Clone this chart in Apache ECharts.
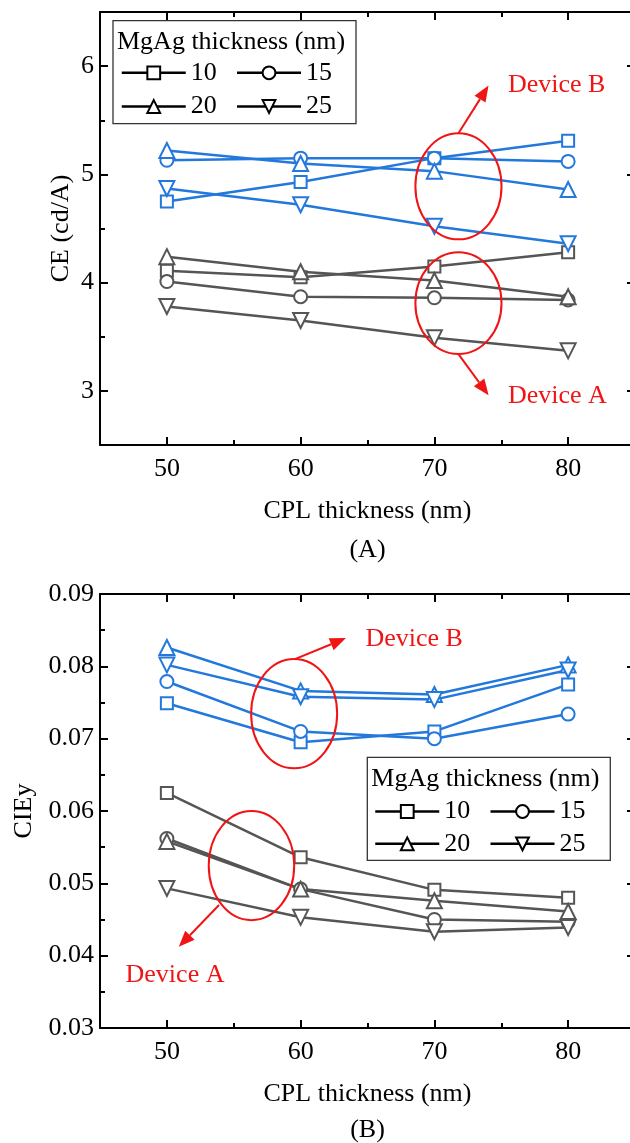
<!DOCTYPE html>
<html>
<head>
<meta charset="utf-8">
<script src="https://cdn.jsdelivr.net/npm/echarts@6/dist/echarts.min.js"></script>
<style>
  html, body { margin: 0; padding: 0; background: #fff; }
  #chart { width: 630px; height: 1143px; }
</style>
</head>
<body>
<div id="chart"></div>
<script>
const cplThickness = [50, 60, 70, 80];
const mgagThickness = ["10", "15", "20", "25"];

// one row per MgAg thickness (10, 15, 20, 25 nm)
const ceDeviceA = [
	[4.11, 4.05, 4.15, 4.28],
	[4.01, 3.87, 3.86, 3.84],
	[4.24, 4.1, 4.02, 3.87],
	[3.78, 3.65, 3.49, 3.37],
];
const ceDeviceB = [
	[4.75, 4.93, 5.15, 5.31],
	[5.13, 5.15, 5.15, 5.12],
	[5.22, 5.1, 5.03, 4.86],
	[4.87, 4.72, 4.52, 4.36],
];
const cieyDeviceA = [
	[0.0625, 0.0536, 0.0491, 0.048],
	[0.0562, 0.0492, 0.045, 0.0447],
	[0.0558, 0.0492, 0.0476, 0.0461],
	[0.0493, 0.0453, 0.0433, 0.0439],
];
const cieyDeviceB = [
	[0.0749, 0.0695, 0.071, 0.0775],
	[0.0779, 0.071, 0.07, 0.0734],
	[0.0826, 0.0766, 0.0761, 0.0802],
	[0.0802, 0.0758, 0.0754, 0.0795],
];

const xTicks = [50, 60, 70, 80];
const xMinorTicks = [55, 65, 75];
const ceTicks = [3, 4, 5, 6];
const ceMinorTicks = [3.5, 4.5, 5.5];
const cieyTicks = [0.03, 0.04, 0.05, 0.06, 0.07, 0.08, 0.09];
const cieyMinorTicks = [0.035, 0.045, 0.055, 0.065, 0.075, 0.085];

// annotation anchors in data units: ellipse [x0, x1, y0, y1], arrow [x0, y0, x1, y1]
const ceEllipses = [[68.58, 75.02, 4.4, 5.38], [68.58, 75.02, 3.34, 4.28]];
const ceArrows = [[71.8, 5.38, 74.05, 5.82], [71.8, 3.34, 74.05, 2.96]];
const ceNotes = [["Device B", 75.5, 5.82], ["Device A", 75.5, 2.95]];
const cieyEllipses = [[56.3, 62.73, 0.0659, 0.081], [53.13, 59.52, 0.0449, 0.06]];
const cieyArrows = [[59.57, 0.081, 63.39, 0.0839], [53.9, 0.047, 50.89, 0.04124]];
const cieyNotes = [["Device B", 64.85, 0.0837], ["Device A", 46.91, 0.0373]];

const FONT = "'Liberation Serif', 'Times New Roman', serif";
const FS = 26;
const BLUE = "#2378dc";
const GRAY = "#555555";
const RED = "#f01414";
const symbols = ["emptyRect", "emptyCircle", "emptyTriangle", "emptyTriangle"];
const symbolRot = [0, 0, 0, 180];
const symbolSizes = [12, 13, 15, 15];

const text = { fontFamily: FONT, fontSize: FS, color: "#000" };
const black = { color: "#000", width: 2 };

function tickAxes(grid, min, max, major, minor, sides, main) {
	const out = [];
	sides.forEach((side, s) => {
		[major, minor].forEach((vals, m) => {
			const ax = {
				gridIndex: grid,
				type: "value",
				min,
				max,
				position: side,
				splitLine: { show: false },
				axisLine: { show: m === 0, onZero: false, lineStyle: black },
				axisTick: { show: true, inside: true, length: m === 0 ? 8 : 5, customValues: vals, lineStyle: black },
				axisLabel: { show: false },
			};
			if (s === 0 && m === 0) Object.assign(ax, main);
			out.push(ax);
		});
	});
	return out;
}

function xMain() {
	return {
		name: "CPL thickness (nm)",
		nameLocation: "middle",
		nameGap: 53,
		nameMoveOverlap: false,
		nameTextStyle: text,
		axisLabel: { show: true, customValues: xTicks, margin: 11, ...text },
	};
}

const xAxis = [
	...tickAxes(0, 45, 85, xTicks, xMinorTicks, ["bottom", "top"], xMain()),
	...tickAxes(1, 45, 85, xTicks, xMinorTicks, ["bottom", "top"], xMain()),
];

const yAxis = [
	...tickAxes(0, 2.5, 6.5, ceTicks, ceMinorTicks, ["left", "right"], {
		name: "CE (cd/A)",
		nameLocation: "middle",
		nameGap: 26,
		nameMoveOverlap: false,
		nameTextStyle: text,
		axisLabel: { show: true, customValues: ceTicks, margin: 6, ...text },
	}),
	...tickAxes(1, 0.03, 0.09, cieyTicks, cieyMinorTicks, ["left", "right"], {
		name: "CIEy",
		nameLocation: "middle",
		nameGap: 63,
		nameMoveOverlap: false,
		nameTextStyle: text,
		axisLabel: { show: true, customValues: cieyTicks, margin: 6, formatter: (v) => v.toFixed(2), ...text },
	}),
];

function lineSeries(rows, color, grid) {
	return rows.map((row, i) => ({
		name: mgagThickness[i],
		type: "line",
		xAxisIndex: grid * 4,
		yAxisIndex: grid * 4,
		data: cplThickness.map((x, j) => [x, row[j]]),
		symbol: symbols[i],
		symbolRotate: symbolRot[i],
		symbolSize: symbolSizes[i],
		showAllSymbol: true,
		lineStyle: { color, width: 2.5 },
		itemStyle: { color, borderWidth: 1.8 },
		emphasis: { disabled: true },
	}));
}

function legendRow(names, left, top) {
	return {
		data: names,
		left,
		top,
		z: 6,
		orient: "horizontal",
		padding: 0,
		itemGap: 19,
		itemWidth: 64,
		itemHeight: 16,
		selectedMode: false,
		textStyle: text,
		itemStyle: { color: "#000", borderColor: "#000" },
		lineStyle: { color: "#000", width: 2.5 },
	};
}

const chart = echarts.init(document.getElementById("chart"), null, { renderer: "canvas" });

chart.setOption({
	animation: false,
	backgroundColor: "#fff",
	grid: [
		{ left: 100, top: 12, width: 535, height: 433, outerBoundsMode: "none" },
		{ left: 100, top: 594, width: 535, height: 434, outerBoundsMode: "none" },
	],
	xAxis,
	yAxis,
	legend: [
		legendRow(["10", "15"], 120.5, 59.8),
		legendRow(["20", "25"], 120.5, 93.5),
		legendRow(["10", "15"], 374, 798.5),
		legendRow(["20", "25"], 374, 830.8),
	],
	series: [
		...lineSeries(ceDeviceA, GRAY, 0),
		...lineSeries(ceDeviceB, BLUE, 0),
		...lineSeries(cieyDeviceA, GRAY, 1),
		...lineSeries(cieyDeviceB, BLUE, 1),
	],
});

// annotations: anchored in data space, converted to pixels
function annotate(grid, ellipses, arrows, notes) {
	const px = (x, y) => chart.convertToPixel({ gridIndex: grid }, [x, y]);
	const els = [];
	ellipses.forEach(([x0, x1, y0, y1]) => {
		const a = px(x0, y0);
		const b = px(x1, y1);
		els.push({
			type: "ellipse",
			shape: { cx: (a[0] + b[0]) / 2, cy: (a[1] + b[1]) / 2, rx: Math.abs(b[0] - a[0]) / 2, ry: Math.abs(b[1] - a[1]) / 2 },
			style: { fill: null, stroke: RED, lineWidth: 2 },
			z: 100,
		});
	});
	arrows.forEach(([x0, y0, x1, y1]) => {
		const a = px(x0, y0);
		const b = px(x1, y1);
		const len = Math.hypot(b[0] - a[0], b[1] - a[1]);
		const ux = (b[0] - a[0]) / len;
		const uy = (b[1] - a[1]) / len;
		const base = [b[0] - ux * 16, b[1] - uy * 16];
		els.push({ type: "line", shape: { x1: a[0], y1: a[1], x2: base[0], y2: base[1] }, style: { stroke: RED, lineWidth: 2 }, z: 100 });
		els.push({
			type: "polygon",
			shape: { points: [b, [base[0] - uy * 6.5, base[1] + ux * 6.5], [base[0] + uy * 6.5, base[1] - ux * 6.5]] },
			style: { fill: RED },
			z: 100,
		});
	});
	notes.forEach(([label, x, y]) => {
		const p = px(x, y);
		els.push({
			type: "text",
			x: p[0],
			y: p[1],
			style: { text: label, fill: RED, font: FS + "px " + FONT, align: "left", verticalAlign: "middle" },
			z: 100,
		});
	});
	return els;
}

function legendFrame(x, y) {
	return [
		{ type: "rect", shape: { x, y, width: 243, height: 103 }, style: { fill: "#fff", stroke: "#333", lineWidth: 1.3 }, z: 3 },
		{
			type: "text",
			x: x + 4,
			y: y + 21.5,
			style: { text: "MgAg thickness (nm)", fill: "#000", font: FS + "px " + FONT, align: "left", verticalAlign: "middle" },
			z: 5,
		},
	];
}

chart.setOption({
	graphic: [
		...legendFrame(113, 20.7),
		...legendFrame(367.3, 757.3),
		...annotate(0, ceEllipses, ceArrows, ceNotes),
		...annotate(1, cieyEllipses, cieyArrows, cieyNotes),
		{ type: "text", x: 367.5, y: 550, style: { text: "(A)", fill: "#000", font: FS + "px " + FONT, align: "center", verticalAlign: "middle" } },
		{ type: "text", x: 367.5, y: 1130, style: { text: "(B)", fill: "#000", font: FS + "px " + FONT, align: "center", verticalAlign: "middle" } },
	],
});
</script>
</body>
</html>
